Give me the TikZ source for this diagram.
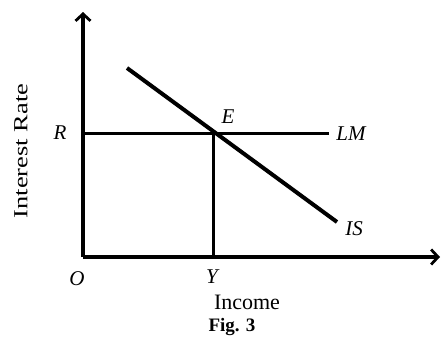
\documentclass[tikz,border=0pt]{standalone}
\usepackage{fontspec}
\setmainfont{Liberation Serif}
\usetikzlibrary{arrows.meta}
\begin{document}
\begin{tikzpicture}[x=1pt,y=-1pt,
  axis/.style={line width=3.2pt,-{Straight Barb[length=7pt,width=15pt,line width=2.8pt]}},
  curve/.style={line width=3pt},
  lab/.style={font=\fontsize{21}{21}\selectfont\itshape, inner sep=0pt}]
\useasboundingbox (0,0) rectangle (441,354);
\coordinate (O) at (83,257);
\coordinate (ytop) at (83,12);
\coordinate (xend) at (440,257);
\coordinate (Rpt) at (83,133);
\coordinate (E) at (213,133);
\coordinate (LMend) at (329,133);
\coordinate (Ypt) at (213,257);
\coordinate (ISa) at (127,68);
\coordinate (ISb) at (337,222);
\draw[axis] (O) -- (ytop);
\draw[axis] (O) -- (xend);
\draw[curve] (Rpt) -- (LMend);
\draw[curve] (E) -- (Ypt);
\draw[line width=4pt] (ISa) -- (ISb);
\node[lab] (R) at (60,133) {R};
\node[lab] (LM) at (351,134) {LM};
\node[lab] (Elab) at (228,117) {E};
\node[lab] (IS) at (354,229) {IS};
\node[lab] (Olab) at (77,279) {O};
\node[lab] (Ylab) at (212,277) {Y};
\node[font=\fontsize{20}{20}\selectfont, inner sep=0pt, rotate=90] (ylabel) at (21,151) {\scalebox{1.32}[1]{Interest Rate}};
\node[font=\fontsize{22}{22}\selectfont, inner sep=0pt] (xlabel) at (247,302) {Income};
\node[font=\fontsize{19}{19}\selectfont\bfseries, inner sep=0pt] (fig) at (232,327) {Fig. 3};
\end{tikzpicture}
\end{document}
